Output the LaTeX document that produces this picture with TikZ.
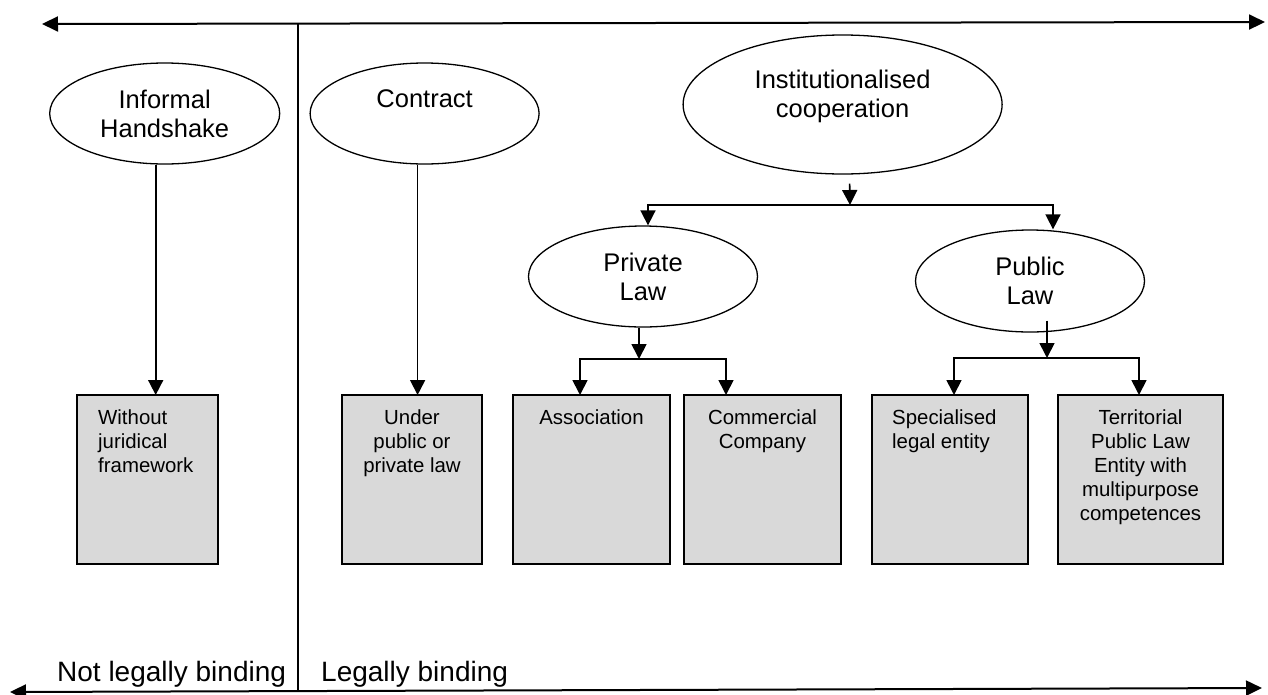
\documentclass[tikz,border=0pt]{standalone}
\usepackage{fontspec}
\setmainfont{Liberation Sans}
\usetikzlibrary{positioning, shapes.geometric, arrows.meta}
\definecolor{boxgray}{HTML}{D9D9D9}

\begin{document}
\begin{tikzpicture}[x=1pt, y=-1pt,
	kind/.style={ellipse, draw, line width=1.3pt, inner sep=0pt, minimum width=229pt, minimum height=101pt, align=center, font=\fontsize{25.5}{29}\selectfont},
	form/.style={draw, line width=1.7pt, fill=boxgray, minimum height=169pt, inner sep=0pt, outer sep=0pt},
	formtext/.style={inner sep=0pt, align=#1, font=\fontsize{20.4}{24}\selectfont},
	link/.style={line width=1.7pt, -{Triangle[length=15pt, width=15pt]}},
	axis/.style={line width=2pt, {Triangle[length=16pt, width=15pt]}-{Triangle[length=16pt, width=15pt]}},
	side/.style={inner sep=0pt, font=\fontsize{28}{32}\selectfont}]
		
		\useasboundingbox (0,0) rectangle (1268,694);
		
		\coordinate (topL) at (42,24);
		\coordinate (topR) at (1265,22);
		\coordinate (botL) at (10,692);
		\coordinate (botR) at (1262,688);
		\coordinate (divT) at (298,24);
		\coordinate (divB) at (298,692);
		\draw[axis] (topL) -- (topR);
		\draw[axis] (botL) -- (botR);
		\draw[line width=1.3pt] (divT) -- (divB);
		
		\node[kind, minimum width=230pt] (informal) at (164.7,113.5) {Informal\\Handshake};
		\node[kind] (contract) at (424.6,113.5) {Contract\\\mbox{}};
		\node[kind, minimum width=319pt, minimum height=139pt, text depth=22pt] (inst) at (842.6,104.5) {Institutionalised\\cooperation};
		\node[kind] (private) at (643,276.5) {Private\\Law};
		\node[kind, minimum height=102pt] (public) at (1030,281) {Public\\Law};
		
		\node[form, minimum width=141pt] (without) at (147.5,479.5) {};
		\node[form, minimum width=140pt, right=124pt of without] (under) {};
		\node[form, minimum width=157pt, right=31pt of under] (assoc) {};
		\node[form, minimum width=157pt, right=14pt of assoc] (commercial) {};
		\node[form, minimum width=156pt, right=31pt of commercial] (special) {};
		\node[form, minimum width=165pt, right=30pt of special] (territorial) {};
		
		\node[formtext=left, below right=15pt and 21pt of without.north west] (withoutT) {Without\\juridical\\framework};
		\node[formtext=center, below=15pt of under.north] (underT) {Under\\public or\\private law};
		\node[formtext=center, below=15pt of assoc.north] (assocT) {Association};
		\node[formtext=center, below=15pt of commercial.north] (commercialT) {Commercial\\Company};
		\node[formtext=left, below right=15pt and 20pt of special.north west] (specialT) {Specialised\\legal entity};
		\node[formtext=center, below=15pt of territorial.north] (territorialT) {Territorial\\Public Law\\Entity with\\multipurpose\\competences};
		
		\node[side, anchor=base west] (notbinding) at (57,681) {Not legally binding};
		\node[side, anchor=base west] (binding) at (321,681) {Legally binding};
		
		\coordinate (instfork) at (850,205);
		\coordinate (privfork) at (639,359);
		\coordinate (pubfork) at (1047,358);
		
		\draw[link] ([xshift=-9pt]informal.south) -- ([xshift=-9pt]informal.south |- without.north);
		\draw[link] ([xshift=-7pt]contract.south) -- ([xshift=-7pt]contract.south |- under.north);
		
		\draw[link] ([xshift=7pt]inst.south) ++(0,9) -- (instfork);
		\draw[link] (instfork) -| ([xshift=5pt]private.north);
		\draw[link] (instfork) -| ([xshift=23pt]public.north);
		
		\draw[link] ([xshift=-4pt]private.south) -- (privfork);
		\draw[link] (privfork) -| ([xshift=-11.5pt]assoc.north);
		\draw[link] (privfork) -| ([xshift=-36.5pt]commercial.north);
		
		\draw[link] ([xshift=17pt]public.south) ++(0,-12) -- (pubfork);
		\draw[link] (pubfork) -| ([xshift=4pt]special.north);
		\draw[link] (pubfork) -| ([xshift=-1.5pt]territorial.north);
		
\end{tikzpicture}
\end{document}
